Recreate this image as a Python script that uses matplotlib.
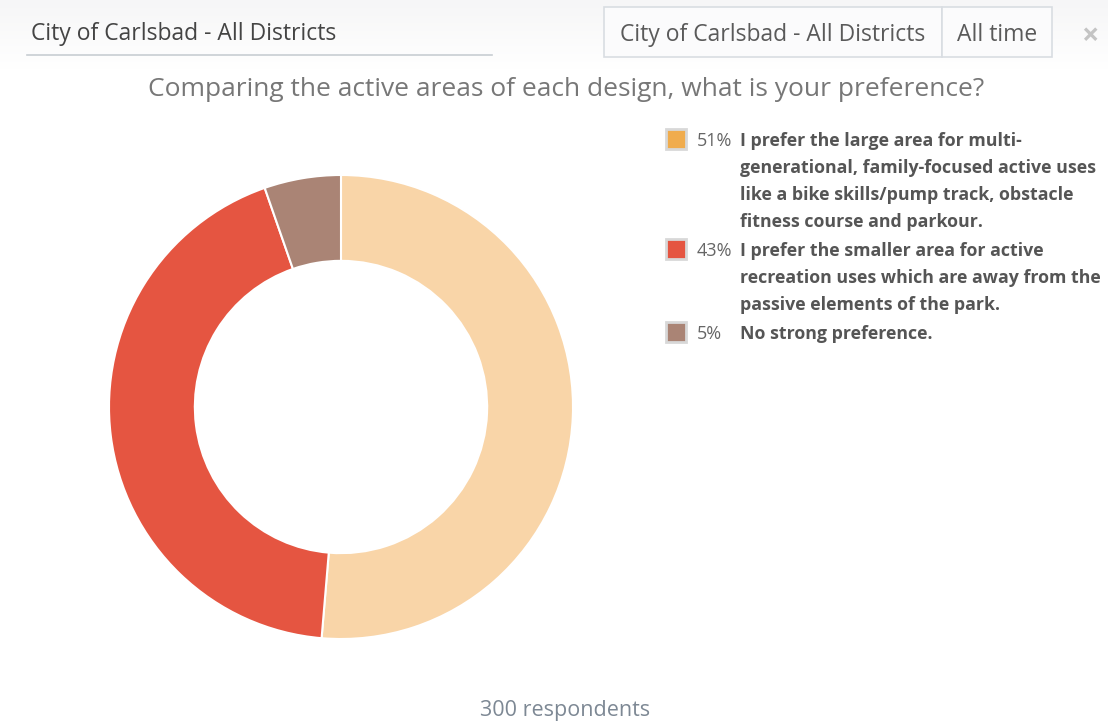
import matplotlib
matplotlib.use("Agg")
import matplotlib.pyplot as plt
from matplotlib.patches import Rectangle
import numpy as np

plt.rcParams['font.family'] = ['Open Sans', 'DejaVu Sans']

# ---- data ----
labels = [
    "I prefer the large area for multi-\ngenerational, family-focused active uses\nlike a bike skills/pump track, obstacle\nfitness course and parkour.",
    "I prefer the smaller area for active\nrecreation uses which are away from the\npassive elements of the park.",
    "No strong preference.",
]
counts = [154, 130, 16]
pct_labels = ["51%", "43%", "5%"]
slice_colors = ["#f9d5a8", "#e55541", "#aa8475"]
legend_colors = ["#f0ac4d", "#e55541", "#aa8475"]
title = "Comparing the active areas of each design, what is your preference?"
filter_text = "City of Carlsbad - All Districts"
time_text = "All time"
footer = "300 respondents"

W, H = 1108, 721
fig = plt.figure(figsize=(W / 100, H / 100), dpi=100)
fig.patch.set_facecolor("white")

# overlay axes in pixel coordinates (y down)
bg = fig.add_axes([0, 0, 1, 1])
bg.set_xlim(0, W)
bg.set_ylim(H, 0)
bg.axis("off")

# header gradient band
grad = np.linspace(0, 1, 70).reshape(-1, 1)
bg.imshow(grad, extent=(0, W, 70, 0), cmap=matplotlib.colors.LinearSegmentedColormap.from_list(
    "g", ["#f6f6f7", "#ffffff"]), aspect="auto", zorder=0)

# left input with underline
bg.plot([27, 492], [55, 55], color="#c8cdd2", lw=1.2, zorder=2)
bg.text(31, 34, filter_text, fontsize=16.5, color="#444444", va="center", ha="left", zorder=3)

# right filter boxes
bg.add_patch(Rectangle((604, 7), 338, 50, facecolor="#fbfbfc", edgecolor="#d9dde2", lw=1.2, zorder=2))
bg.add_patch(Rectangle((942, 7), 110, 50, facecolor="#fbfbfc", edgecolor="#d9dde2", lw=1.2, zorder=2))
bg.text(773, 35, filter_text, fontsize=16.5, color="#5a5a5a", va="center", ha="center", zorder=3)
bg.text(997, 35, time_text, fontsize=16.5, color="#5a5a5a", va="center", ha="center", zorder=3)
bg.text(1090, 37, "\u00d7", fontsize=22, color="#c4c4c4", va="center", ha="center",
        fontweight="bold", zorder=3)

# title
bg.text(566, 89.5, title, fontsize=19, color="#777777", va="center", ha="center", zorder=3)

# footer
bg.text(565, 710.5, footer, fontsize=15.5, color="#7d8894", va="center", ha="center", zorder=3)

# legend
line_h = 27
y = 139
for lab, pct, col in zip(labels, pct_labels, legend_colors):
    bg.add_patch(Rectangle((666, y - 10), 20, 20, facecolor=col, edgecolor="#d8d8d8", lw=2, zorder=3))
    bg.text(697, y + 2, pct, fontsize=13, color="#666666", va="center", ha="left", zorder=3)
    lines = lab.split("\n")
    for i, ln in enumerate(lines):
        bg.text(740, y + 2 + i * line_h, ln, fontsize=12.8, fontweight="bold", color="#555555",
                va="center", ha="left", zorder=3)
    y += line_h * len(lines) + 2

# donut
cx, cy, r = 341, 407, 232
ax = fig.add_axes([(cx - r) / W, (H - cy - r) / H, 2 * r / W, 2 * r / H])
ax.pie(counts, colors=slice_colors, startangle=90, counterclock=False,
       wedgeprops=dict(width=0.37, edgecolor="white", linewidth=1.5))
ax.set_xlim(-1, 1)
ax.set_ylim(-1, 1)
ax.axis("off")

fig.savefig("out.png", dpi=100, facecolor="white")
